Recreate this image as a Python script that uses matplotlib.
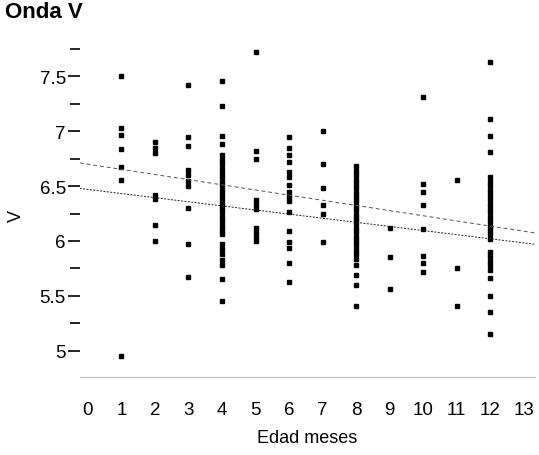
import numpy as np
import matplotlib
matplotlib.use("Agg")
import matplotlib.pyplot as plt

plt.rcParams["font.family"] = ["Liberation Sans", "DejaVu Sans"]

# --- values: wave V latency by age in months ---
v_m1 = [7.5, 7.03, 6.97, 6.84, 6.67, 6.56, 4.95]
v_m2 = [6.9, 6.85, 6.8, 6.42, 6.38, 6.15, 6.0]
v_m3 = [7.42, 6.95, 6.87, 6.65, 6.6, 6.55, 6.5, 6.3, 5.97, 5.67]
v_m4 = [7.46, 7.23, 6.96, 6.88, 6.78, 6.74, 6.7, 6.66, 6.62, 6.58, 6.54, 6.5,
        6.46, 6.42, 6.38, 6.34, 6.3, 6.26, 6.22, 6.18, 6.14, 6.1, 6.06, 5.97,
        5.93, 5.88, 5.83, 5.78, 5.65, 5.45]
v_m5 = [7.72, 6.82, 6.75, 6.37, 6.33, 6.29, 6.12, 6.08, 6.04, 6.0]
v_m6 = [6.95, 6.85, 6.78, 6.72, 6.63, 6.58, 6.51, 6.45, 6.4, 6.36, 6.26, 6.09,
        5.99, 5.94, 5.8, 5.63]
v_m7 = [7.0, 6.7, 6.48, 6.33, 6.25, 5.99]
v_m8 = [6.68, 6.64, 6.6, 6.56, 6.52, 6.48, 6.44, 6.4, 6.36, 6.32, 6.28, 6.24,
        6.2, 6.16, 6.12, 6.08, 6.04, 6.0, 5.96, 5.92, 5.88, 5.84, 5.78, 5.69,
        5.6, 5.41]
v_m9 = [6.12, 5.85, 5.56]
v_m10 = [7.31, 6.52, 6.45, 6.33, 6.11, 5.86, 5.8, 5.72]
v_m11 = [6.56, 5.75, 5.41]
v_m12 = [7.63, 7.11, 6.96, 6.81, 6.58, 6.54, 6.5, 6.46, 6.42, 6.38, 6.34, 6.3,
         6.26, 6.22, 6.18, 6.14, 6.1, 6.06, 6.02, 5.9, 5.86, 5.82, 5.78, 5.74,
         5.66, 5.5, 5.35, 5.15]

months = [1, 2, 3, 4, 5, 6, 7, 8, 9, 10, 11, 12]
values = [v_m1, v_m2, v_m3, v_m4, v_m5, v_m6, v_m7, v_m8, v_m9, v_m10, v_m11, v_m12]

# fitted lines (intercept, slope)
fit_upper = (6.70, -0.047)
fit_lower = (6.47, -0.0375)

x_ticks = list(range(0, 14))
y_ticks = [5, 5.5, 6, 6.5, 7, 7.5]
y_labels = ["5", "5.5", "6", "6.5", "7", "7.5"]

fig = plt.figure(figsize=(5.39, 4.56), dpi=100)
ax = fig.add_axes([0.148, 0.171, 0.845, 0.741])

for m, vals in zip(months, values):
    ax.plot([m] * len(vals), vals, ls="none", marker="s", ms=3.4,
            color="black", mec="black")

xs = np.array([-0.24, 13.34])
ax.plot(xs, fit_upper[0] + fit_upper[1] * xs, color="#555555", lw=0.7,
        ls=(0, (4, 3)))
ax.plot(xs, fit_lower[0] + fit_lower[1] * xs, color="#222222", lw=0.7,
        ls=(0, (2, 1.5)))

ax.set_xlim(-0.24, 13.34)
ax.set_ylim(4.76, 7.84)
ax.set_xticks(x_ticks)
ax.set_yticks(y_ticks)
ax.set_yticklabels(y_labels)
ax.set_yticks(np.arange(5.25, 7.8, 0.5), minor=True)

for s in ["top", "right", "left"]:
    ax.spines[s].set_visible(False)
ax.spines["bottom"].set_color("#bbbbbb")
ax.spines["bottom"].set_linewidth(0.8)

ax.tick_params(axis="y", which="major", length=9, width=1.2, labelsize=13.5, pad=1)
ax.tick_params(axis="y", which="minor", length=7, width=1.2)
ax.tick_params(axis="x", length=0, labelsize=13.5, pad=17)

ax.set_xlabel("Edad meses", fontsize=13, labelpad=8)
ax.set_ylabel("V", fontsize=13)
ax.yaxis.set_label_coords(-0.12, 0.48)
fig.text(0.01, 0.972, "Onda V", fontsize=16, fontweight="bold", va="center")

fig.savefig("out.png", dpi=100)
